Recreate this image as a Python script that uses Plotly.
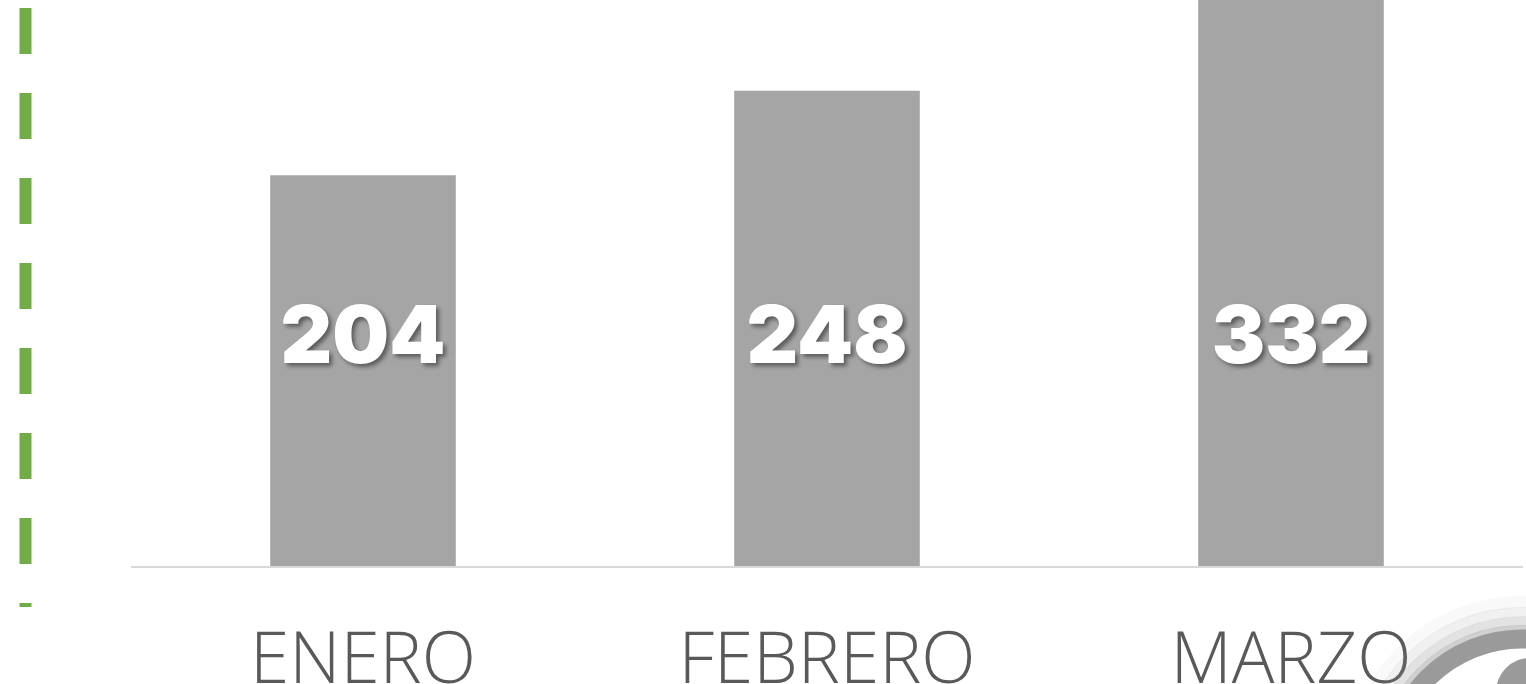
import plotly.graph_objects as go

months = ["ENERO", "FEBRERO", "MARZO"]
values = [204, 248, 332]
label_level = 116.5  # data height where the value labels sit

W, H = 1526, 684
L, R, T, B = 131, 3, 0, 118
pw, ph = W - L - R, H - T - B

def px(x):
    return (x - L) / pw

def py(y):
    return (H - B - y) / ph

fig = go.Figure()
fig.add_trace(go.Bar(
    x=months, y=values, marker=dict(color="#a5a5a5", line=dict(width=0)),
    hoverinfo="skip", showlegend=False,
))
fig.add_trace(go.Scatter(
    x=months, y=[label_level] * len(values), mode="text",
    text=[str(v) for v in values],
    textfont=dict(family="Inter", size=80, color="white", weight=900,
                  shadow="3px 3px 4px rgba(0,0,0,0.45)"),
    textposition="middle center", hoverinfo="skip", showlegend=False,
))

shapes = []
# green dashed vertical line on the left
shapes.append(dict(type="line", xref="paper", yref="paper",
                   x0=px(25.5), x1=px(25.5), y0=py(8), y1=py(607),
                   line=dict(color="#70ad47", width=12, dash="46px,39px")))
# decorative ring in bottom-right corner
cx, cy = 1522, 772
for rad, w, col in [(170, 12, "rgba(150,150,150,0.06)"),
                    (160, 10, "rgba(150,150,150,0.14)"),
                    (151, 9, "rgba(150,150,150,0.28)"),
                    (144, 6, "rgba(150,150,150,0.45)")]:
    shapes.append(dict(type="circle", xref="paper", yref="paper",
                       x0=px(cx - rad), x1=px(cx + rad),
                       y0=py(cy + rad), y1=py(cy - rad),
                       line=dict(color=col, width=w), layer="above"))
shapes.append(dict(type="circle", xref="paper", yref="paper",
                   x0=px(cx - 133), x1=px(cx + 133),
                   y0=py(cy + 133), y1=py(cy - 133),
                   line=dict(color="#9a9a9a", width=19), layer="above"))
shapes.append(dict(type="circle", xref="paper", yref="paper",
                   x0=px(1496), x1=px(1564), y0=py(726), y1=py(658),
                   fillcolor="#9a9a9a", line=dict(width=0), layer="above"))

fig.update_layout(
    width=W, height=H,
    margin=dict(l=L, r=R, t=T, b=B, pad=0, autoexpand=False),
    paper_bgcolor="white", plot_bgcolor="white",
    bargap=0.6,
    shapes=shapes,
    xaxis=dict(showline=True, linecolor="#d9d9d9", linewidth=1.5,
               showgrid=False, zeroline=False, ticks="", automargin=False,
               tickfont=dict(family="Open Sans", size=71, color="#595959", weight=300),
               ticklabelstandoff=30, fixedrange=True),
    yaxis=dict(range=[0, 295.4], visible=False, showgrid=False, zeroline=False,
               fixedrange=True, automargin=False),
)
fig.write_html("out.html", config={"displayModeBar": False},
               post_script="document.body.style.margin='0';document.body.style.overflow='hidden';")
